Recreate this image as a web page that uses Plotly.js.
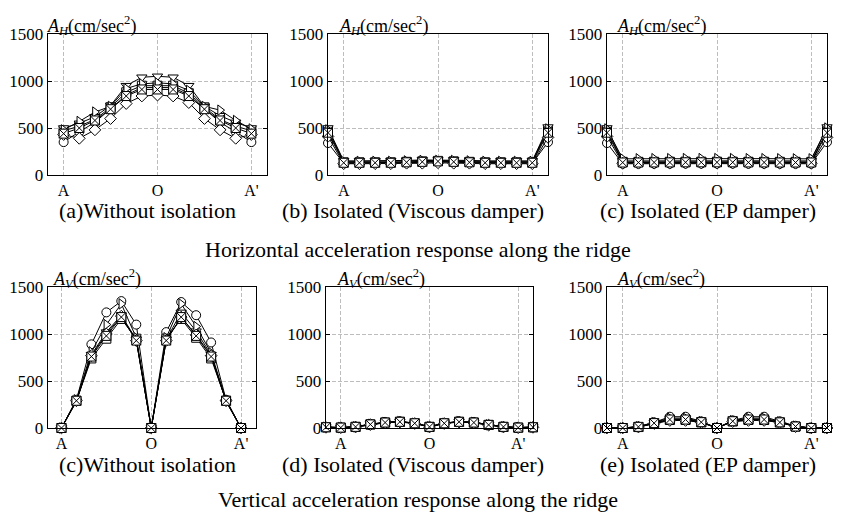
<!DOCTYPE html>
<html>
<head>
<meta charset="utf-8">
<script src="https://cdn.plot.ly/plotly-3.0.1.min.js"></script>
<style>html,body{margin:0;padding:0;background:#fff;}#chart{width:852px;height:518px;}</style>
</head>
<body>
<div id="chart"></div>
<script>
// ---------- data ----------
const nodes13 = [0,1,2,3,4,5,6,7,8,9,10,11,12];
const nodes15 = [-1,0,1,2,3,4,5,6,7,8,9,10,11,12,13];
const tickPos = [0,6,12];
const tickLabels = ['A','O',"A'"];
const yTicks = [0,500,1000,1500];

// Horizontal, without isolation (13 nodes A..A')
const hA_circle   = [350,460,560,700,850,930,930,930,850,700,560,460,350];
const hA_square   = [470,520,590,720,880,950,950,950,870,720,590,520,470];
const hA_triDown  = [500,550,620,740,950,1040,1050,1040,950,730,630,560,500];
const hA_triRight = [480,570,670,730,920,970,980,970,900,730,690,580,490];
const hA_diamond  = [430,390,480,600,760,840,850,840,770,600,480,390,430];
const hA_squareX  = [440,500,580,700,840,910,910,910,840,700,580,500,440];

// Horizontal, isolated viscous damper (15 nodes)
const hB_circle   = [340,125,125,125,125,130,135,140,135,130,125,125,125,125,350];
const hB_square   = [470,135,135,135,135,140,145,150,145,140,135,135,135,135,470];
const hB_triDown  = [500,150,150,150,150,155,160,160,160,155,150,150,150,150,510];
const hB_triRight = [480,145,145,145,145,150,155,155,155,150,145,145,145,145,490];
const hB_diamond  = [410,120,120,120,120,125,125,130,125,125,120,120,120,120,400];
const hB_squareX  = [450,130,130,130,130,135,140,145,140,135,130,130,130,130,450];

// Horizontal, isolated EP damper (15 nodes)
const hC_circle   = [340,120,120,121,121,122,122,122,122,121,121,120,120,120,350];
const hC_square   = [470,140,140,141,141,142,142,142,142,141,141,140,140,140,470];
const hC_triDown  = [500,150,150,151,151,152,152,152,152,151,151,150,150,150,510];
const hC_triRight = [490,172,173,174,174,175,175,175,175,174,174,173,172,172,500];
const hC_diamond  = [410,125,125,126,126,127,127,127,127,126,126,125,125,125,400];
const hC_squareX  = [450,133,133,134,134,135,135,135,135,134,134,133,133,133,450];

// Vertical, without isolation (13 nodes)
const vA_circle   = [0,300,890,1230,1350,1100,0,1020,1340,1200,910,300,0];
const vA_square   = [0,290,740,950,1160,950,0,950,1160,960,740,290,0];
const vA_triDown  = [0,280,780,1020,1200,940,0,940,1230,1030,780,280,0];
const vA_triRight = [0,300,810,1100,1320,960,0,960,1320,1080,800,300,0];
const vA_diamond  = [0,290,770,1000,1190,930,0,930,1180,990,770,290,0];
const vA_squareX  = [0,290,760,980,1180,930,0,930,1180,980,760,290,0];

// Vertical, isolated viscous damper (15 nodes)
const vB_circle   = [10,5,15,40,62,70,52,15,52,70,62,35,15,5,10];
const vB_square   = [8,4,12,38,58,66,50,12,50,66,58,33,12,4,8];
const vB_triDown  = [10,5,14,42,60,68,52,14,52,68,60,36,14,5,10];
const vB_triRight = [9,5,13,40,60,68,51,13,51,68,60,34,13,5,9];
const vB_diamond  = [7,3,10,36,55,63,48,10,48,63,55,30,10,3,7];
const vB_squareX  = [8,4,12,38,58,66,50,12,50,66,58,33,12,4,8];

// Vertical, isolated EP damper (15 nodes)
const vC_circle   = [0,0,15,60,120,120,70,0,80,120,120,70,20,0,0];
const vC_square   = [0,0,10,50,85,85,60,0,70,85,85,60,15,0,0];
const vC_triDown  = [0,0,12,55,95,95,65,0,75,95,95,62,18,0,0];
const vC_triRight = [0,0,14,58,105,105,68,0,78,105,105,66,20,0,0];
const vC_diamond  = [0,0,10,48,80,80,58,0,68,80,80,58,14,0,0];
const vC_squareX  = [0,0,12,52,90,90,62,0,72,90,90,60,16,0,0];

const captions = ['(a)Without isolation','(b) Isolated (Viscous damper)','(c) Isolated (EP damper)',
                  '(c)Without isolation','(d) Isolated (Viscous damper)','(e) Isolated (EP damper)'];
const rowTitles = ['Horizontal acceleration response along the ridge','Vertical acceleration response along the ridge'];
const yTitleH = '<i>A</i><sub><i>H</i></sub>(cm/sec<sup>2</sup>)';
const yTitleV = '<i>A</i><sub><i>V</i></sub>(cm/sec<sup>2</sup>)';

// ---------- styles / geometry ----------
const W = 852, H = 518;
const symbols = ['circle','square','triangle-down','triangle-right','diamond','square-x'];
const FONT = 'Liberation Serif, Times New Roman, serif';

const panelData = [
  {x: nodes13, ys: [hA_circle,hA_square,hA_triDown,hA_triRight,hA_diamond,hA_squareX]},
  {x: nodes15, ys: [hB_circle,hB_square,hB_triDown,hB_triRight,hB_diamond,hB_squareX]},
  {x: nodes15, ys: [hC_circle,hC_square,hC_triDown,hC_triRight,hC_diamond,hC_squareX]},
  {x: nodes13, ys: [vA_circle,vA_square,vA_triDown,vA_triRight,vA_diamond,vA_squareX]},
  {x: nodes15, ys: [vB_circle,vB_square,vB_triDown,vB_triRight,vB_diamond,vB_squareX]},
  {x: nodes15, ys: [vC_circle,vC_square,vC_triDown,vC_triRight,vC_diamond,vC_squareX]}
];
// pixel boxes [left, right, top, bottom], x range, title x, caption centre x
const geom = [
  {l:48,  r:267, t:34,  b:175, xr:[-1,13],   tx:45,  cx:147},
  {l:328, r:548, t:34,  b:175, xr:[-1,13],   tx:337, cx:413},
  {l:607, r:827, t:34,  b:175, xr:[-1,13],   tx:615, cx:708},
  {l:48,  r:256, t:287, b:428, xr:[-0.9,13], tx:51,  cx:147},
  {l:326, r:533, t:287, b:428, xr:[-1,13],   tx:335, cx:413},
  {l:607, r:827, t:287, b:428, xr:[-1,13],   tx:615, cx:708}
];
const captionY = [211,211,211,464,464,464];
const rowTitleY = [250,499];

const traces = [];
const layout = {
  width: W, height: H,
  margin: {l:0, r:0, t:0, b:0},
  paper_bgcolor: '#fff', plot_bgcolor: '#fff',
  showlegend: false,
  font: {family: FONT, color: '#000', size: 17},
  annotations: []
};

panelData.forEach((p, i) => {
  const g = geom[i];
  const n = i + 1;
  const xa = 'x' + (n === 1 ? '' : n), ya = 'y' + (n === 1 ? '' : n);
  p.ys.forEach((yv, k) => {
    traces.push({
      x: p.x, y: yv, xaxis: xa, yaxis: ya,
      type: 'scatter', mode: 'lines+markers',
      line: {color: '#000', width: 1},
      marker: {symbol: symbols[k], size: 9, color: '#fff', line: {color: '#000', width: 1}},
      cliponaxis: false, hoverinfo: 'skip'
    });
  });
  const xKey = 'xaxis' + (n === 1 ? '' : n), yKey = 'yaxis' + (n === 1 ? '' : n);
  layout[xKey] = {
    domain: [g.l / W, g.r / W], anchor: ya, range: g.xr,
    tickvals: tickPos, ticktext: tickLabels,
    showgrid: true, gridcolor: '#bdbdbd', griddash: '4px,2px', gridwidth: 1,
    zeroline: false, showline: true, linecolor: '#000', linewidth: 1.3, mirror: true,
    ticks: '', tickfont: {family: FONT, size: 16, color: '#000'}, ticklabelstandoff: 0
  };
  layout[yKey] = {
    domain: [1 - g.b / H, 1 - g.t / H], anchor: xa, range: [0, 1500],
    tickvals: yTicks,
    showgrid: true, gridcolor: '#bdbdbd', griddash: '4px,2px', gridwidth: 1,
    zeroline: false, showline: true, linecolor: '#000', linewidth: 1.3, mirror: 'ticks',
    ticks: 'inside', ticklen: 4, tickcolor: '#000',
    tickfont: {family: FONT, size: 17, color: '#000'}
  };
  layout.annotations.push({
    xref: 'paper', yref: 'paper', x: g.tx / W, y: 1 - g.t / H,
    xanchor: 'left', yanchor: 'bottom', showarrow: false, yshift: -6,
    text: i < 3 ? yTitleH : yTitleV, font: {family: FONT, size: 18, color: '#000'}
  });
  layout.annotations.push({
    xref: 'paper', yref: 'paper', x: g.cx / W, y: 1 - captionY[i] / H,
    xanchor: 'center', yanchor: 'middle', showarrow: false,
    text: captions[i], font: {family: FONT, size: 22, color: '#000'}
  });
});
rowTitles.forEach((t, r) => {
  layout.annotations.push({
    xref: 'paper', yref: 'paper', x: 418 / W, y: 1 - rowTitleY[r] / H,
    xanchor: 'center', yanchor: 'middle', showarrow: false,
    text: t, font: {family: FONT, size: 22, color: '#000'}
  });
});

Plotly.newPlot('chart', traces, layout, {staticPlot: true, displayModeBar: false});
</script>
</body>
</html>
